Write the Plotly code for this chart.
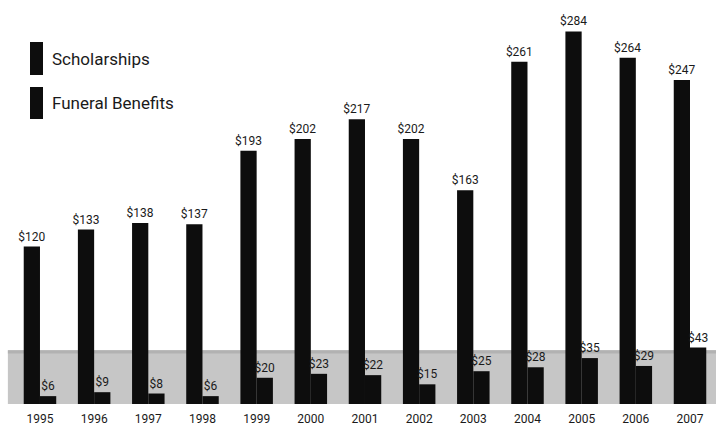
import plotly.graph_objects as go

years = ["1995", "1996", "1997", "1998", "1999", "2000", "2001",
         "2002", "2003", "2004", "2005", "2006", "2007"]
scholarships = [120, 133, 138, 137, 193, 202, 217, 202, 163, 261, 284, 264, 247]
funeral_benefits = [6, 9, 8, 6, 20, 23, 22, 15, 25, 28, 35, 29, 43]

series_names = ["Scholarships", "Funeral Benefits"]

FONT = "Roboto, sans-serif"
BAR_W = 0.3
positions = list(range(len(years)))

fig = go.Figure()
for vals, off in ((scholarships, -BAR_W), (funeral_benefits, 0)):
    fig.add_trace(go.Bar(
        x=positions, y=vals,
        width=BAR_W, offset=off,
        marker=dict(color="#0d0d0d", line=dict(width=0)),
        text=[f"${v}" for v in vals], textposition="outside",
        constraintext="none",
        textfont=dict(family=FONT, size=12, color="#1a1a1a"),
        cliponaxis=False,
    ))

# grey band along the base of the chart
shapes = [
    dict(type="rect", xref="paper", yref="y", x0=0.011, x1=1.0, y0=-0.5, y1=41,
         fillcolor="#c6c6c6", line=dict(width=0), layer="below"),
    dict(type="rect", xref="paper", yref="y", x0=0.011, x1=1.0, y0=38.5, y1=41,
         fillcolor="#b2b2b2", line=dict(width=0), layer="below"),
]

# hand-built legend with tall swatches
legend_rows = [(42, 75), (87, 119)]
annotations = []
for name, (top, bottom) in zip(series_names, legend_rows):
    shapes.append(dict(type="rect", xref="paper", yref="paper",
                       x0=30 / 716, x1=43 / 716,
                       y0=1 - bottom / 404, y1=1 - top / 404,
                       fillcolor="#0d0d0d", line=dict(width=0)))
    annotations.append(dict(xref="paper", yref="paper",
                            x=50 / 716, y=1 - ((top + bottom) / 2) / 404,
                            xanchor="left", yanchor="middle", showarrow=False,
                            text=name, font=dict(family=FONT, size=17, color="#1a1a1a")))

fig.update_layout(
    width=716, height=429,
    margin=dict(l=0, r=0, t=0, b=25),
    paper_bgcolor="white", plot_bgcolor="white",
    showlegend=False,
    barmode="overlay",
    shapes=shapes,
    annotations=annotations,
    xaxis=dict(range=[-0.738, 12.48], tickmode="array", tickvals=positions,
               ticktext=years, showgrid=False, zeroline=False, showline=False,
               ticks="", ticklabelstandoff=6,
               tickfont=dict(family=FONT, size=12, color="#1a1a1a")),
    yaxis=dict(range=[0, 308], visible=False, showgrid=False, zeroline=False),
)

fig.write_html("out.html")
